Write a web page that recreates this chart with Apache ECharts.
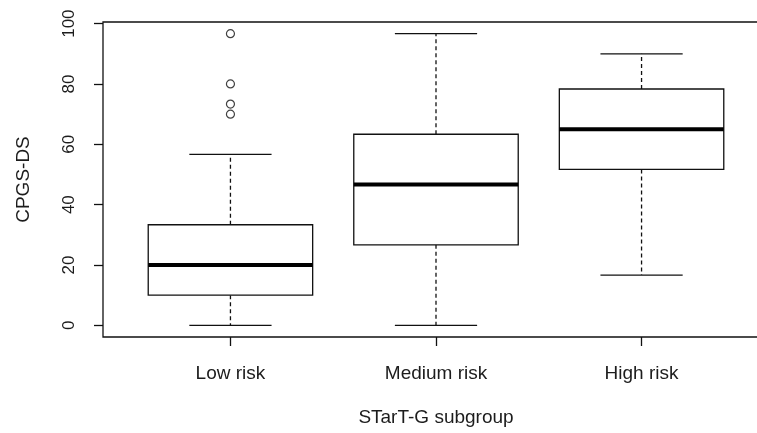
<!DOCTYPE html>
<html>
<head>
<meta charset="utf-8">
<script src="https://cdn.jsdelivr.net/npm/echarts@6/dist/echarts.min.js"></script>
<style>
html,body{margin:0;padding:0;background:#fff;}
#chart{width:757px;height:433px;}
</style>
</head>
<body>
<div id="chart"></div>
<script>
// ---- data ----
var categories = ['Low risk', 'Medium risk', 'High risk'];
var whiskerLow = [0, 0, 16.67];
var q1 = [10, 26.67, 51.67];
var median = [20, 46.67, 65];
var q3 = [33.33, 63.33, 78.33];
var whiskerHigh = [56.67, 96.67, 90];
var outlierGroup = [0, 0, 0, 0];
var outlierValue = [96.67, 80, 73.33, 70];
var yTicks = [0, 20, 40, 60, 80, 100];
var xTitle = 'STarT-G subgroup';
var yTitle = 'CPGS-DS';

// ---- build ----
var boxData = categories.map(function (c, i) {
  return [i + 1, whiskerLow[i], q1[i], median[i], q3[i], whiskerHigh[i]];
});
var outData = outlierValue.map(function (v, k) { return [outlierGroup[k] + 1, v]; });

var allVals = whiskerLow.concat(whiskerHigh, outlierValue);
var dMin = Math.min.apply(null, allVals), dMax = Math.max.apply(null, allVals);
var ext = (dMax - dMin) * 0.04;
var n = categories.length;
var xExt = (n) * 0.04;
var xTickVals = categories.map(function (c, i) { return i + 1; });

var lineColor = '#111';
var textColor = '#1c1c1c';
var font = '"Liberation Sans", Arial, sans-serif';

var chart = echarts.init(document.getElementById('chart'), null, {renderer: 'canvas'});
chart.setOption({
  animation: false,
  backgroundColor: '#fff',
  grid: {
    left: 103, top: 22, height: 315, width: 666,
    containLabel: false, outerBoundsMode: 'none',
    show: true, borderColor: lineColor, borderWidth: 1.3, backgroundColor: 'transparent'
  },
  xAxis: {
    type: 'value',
    min: 0.5 - xExt, max: n + 0.5 + xExt,
    splitLine: {show: false},
    axisLine: {show: false, onZero: false},
    axisTick: {show: true, customValues: xTickVals, length: 9, inside: false,
      lineStyle: {color: lineColor, width: 1.3}},
    axisLabel: {customValues: xTickVals, margin: 27, fontSize: 19, color: textColor, fontFamily: font,
      formatter: function (v) { return categories[Math.round(v) - 1] || ''; }},
    name: xTitle, nameLocation: 'middle', nameGap: 71,
    nameTextStyle: {fontSize: 19, color: textColor, fontFamily: font}
  },
  yAxis: {
    type: 'value',
    min: dMin - ext, max: dMax + ext,
    splitLine: {show: false},
    axisLine: {show: false, onZero: false},
    axisTick: {show: true, customValues: yTicks, length: 9,
      lineStyle: {color: lineColor, width: 1.3}},
    axisLabel: {customValues: yTicks, rotate: 90, margin: 25, fontSize: 17, color: textColor, fontFamily: font},
    name: yTitle, nameLocation: 'middle', nameGap: 70, nameRotate: 90,
    nameTextStyle: {fontSize: 19, color: textColor, fontFamily: font}
  },
  series: [
    {
      type: 'custom',
      data: boxData,
      encode: {x: 0, y: [1, 2, 3, 4, 5]},
      clip: false,
      renderItem: function (params, api) {
        var x = api.value(0);
        var lo = api.value(1), a = api.value(2), m = api.value(3), b = api.value(4), hi = api.value(5);
        var pL = api.coord([x - 0.4, b]);
        var pR = api.coord([x + 0.4, a]);
        var cLo = api.coord([x, lo]), cA = api.coord([x, a]), cB = api.coord([x, b]), cHi = api.coord([x, hi]);
        var capL = api.coord([x - 0.2, lo])[0], capR = api.coord([x + 0.2, lo])[0];
        var mL = api.coord([x - 0.4, m]), mR = api.coord([x + 0.4, m]);
        var solid = {stroke: lineColor, lineWidth: 1.3, fill: null};
        var dashed = {stroke: lineColor, lineWidth: 1.3, lineDash: [4, 3], fill: null};
        return {
          type: 'group',
          children: [
            {type: 'line', shape: {x1: cA[0], y1: cA[1], x2: cLo[0], y2: cLo[1]}, style: dashed},
            {type: 'line', shape: {x1: cB[0], y1: cB[1], x2: cHi[0], y2: cHi[1]}, style: dashed},
            {type: 'line', shape: {x1: capL, y1: cLo[1], x2: capR, y2: cLo[1]}, style: solid},
            {type: 'line', shape: {x1: capL, y1: cHi[1], x2: capR, y2: cHi[1]}, style: solid},
            {type: 'rect', shape: {x: pL[0], y: pL[1], width: pR[0] - pL[0], height: pR[1] - pL[1]},
              style: {stroke: lineColor, lineWidth: 1.3, fill: '#fff'}},
            {type: 'line', shape: {x1: mL[0], y1: mL[1], x2: mR[0], y2: mR[1]},
              style: {stroke: '#000', lineWidth: 4}}
          ]
        };
      },
      z: 2
    },
    {
      type: 'scatter',
      data: outData,
      symbol: 'circle',
      symbolSize: 8,
      itemStyle: {color: '#fff', borderColor: lineColor, borderWidth: 1.2},
      z: 3
    }
  ]
});
</script>
</body>
</html>
